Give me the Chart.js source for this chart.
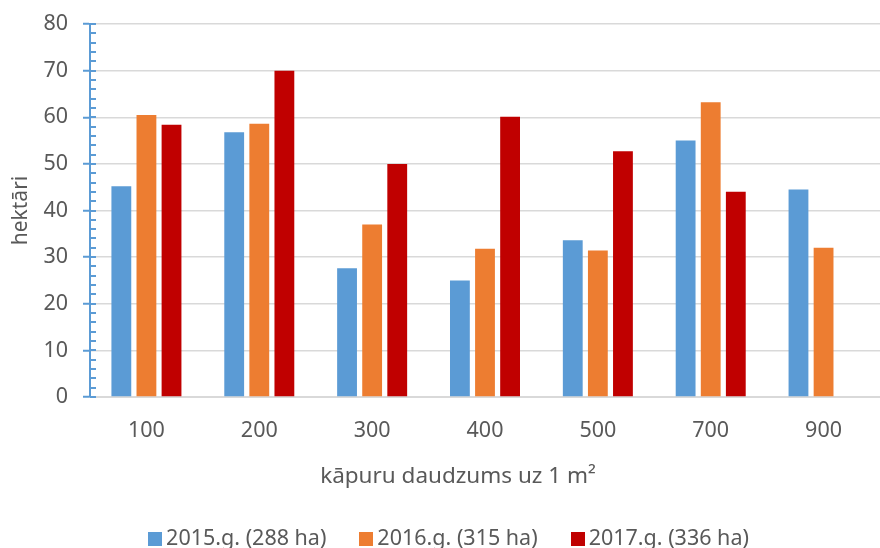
<!DOCTYPE html>
<html>
<head>
<meta charset="utf-8">
<script src="https://cdn.jsdelivr.net/npm/chart.js@4/dist/chart.umd.min.js"></script>
<style>
  html, body { margin: 0; padding: 0; background: #ffffff; }
  #wrap { width: 880px; height: 548px; position: relative; }
</style>
</head>
<body>
<div id="wrap"><canvas id="c"></canvas></div>
<script>
const categories = ['100', '200', '300', '400', '500', '700', '900'];
const seriesLabels = ['2015.g. (288 ha)', '2016.g. (315 ha)', '2017.g. (336 ha)'];
const values2015 = [45.2, 56.8, 27.6, 25.0, 33.6, 55.0, 44.5];
const values2016 = [60.5, 58.6, 37.0, 31.8, 31.4, 63.2, 32.0];
const values2017 = [58.4, 70.0, 50.0, 60.1, 52.7, 44.0, null];
const seriesColors = ['#5B9BD5', '#ED7D31', '#C00000'];
const yTicks = [0, 10, 20, 30, 40, 50, 60, 70, 80];
const yTitle = 'hektāri';
const xTitle = 'kāpuru daudzums uz 1 m²';

const FONT = '"Noto Sans", "Open Sans", sans-serif';
const TEXT = '#595959';

const extras = {
  id: 'extras',
  afterDraw(chart) {
    const ctx = chart.ctx;
    const y = chart.scales.y;
    const area = chart.chartArea;
    ctx.save();
    // inner major/minor tick marks on the y axis
    ctx.strokeStyle = '#5B9BD5';
    ctx.lineWidth = 2;
    for (let v = yTicks[0]; v <= yTicks[yTicks.length - 1]; v += 2) {
      const py = Math.round(y.getPixelForValue(v));
      ctx.beginPath();
      ctx.moveTo(area.left, py);
      ctx.lineTo(area.left + 6, py);
      ctx.stroke();
    }
    // x axis title
    ctx.fillStyle = TEXT;
    ctx.font = '22.5px ' + FONT;
    ctx.textAlign = 'center';
    ctx.textBaseline = 'middle';
    ctx.fillText(xTitle, 458, 477);
    // legend
    ctx.font = '21.5px ' + FONT;
    const items = chart.data.datasets.map(d => ({
      label: d.label, color: d.backgroundColor, w: ctx.measureText(d.label).width
    }));
    const box = 14, gapBox = 4, gapItem = 33;
    let total = 0;
    items.forEach((b, i) => { total += box + gapBox + b.w + (i < items.length - 1 ? gapItem : 0); });
    let x = 448.5 - total / 2;
    const ly = 539;
    ctx.textAlign = 'left';
    items.forEach(b => {
      ctx.fillStyle = b.color;
      ctx.fillRect(Math.round(x), ly - 7, box, box);
      x += box + gapBox;
      ctx.fillStyle = TEXT;
      ctx.fillText(b.label, x, ly);
      x += b.w + gapItem;
    });
    ctx.restore();
  }
};

new Chart(document.getElementById('c'), {
  type: 'bar',
  data: {
    labels: categories,
    datasets: [
      { label: seriesLabels[0], data: values2015, backgroundColor: seriesColors[0] },
      { label: seriesLabels[1], data: values2016, backgroundColor: seriesColors[1] },
      { label: seriesLabels[2], data: values2017, backgroundColor: seriesColors[2] }
    ]
  },
  options: {
    responsive: true,
    maintainAspectRatio: false,
    animation: false,
    devicePixelRatio: 1,
    layout: { padding: { top: 24, right: -11, bottom: 0, left: 0 } },
    datasets: { bar: { categoryPercentage: 0.667, barPercentage: 0.79 } },
    plugins: {
      legend: { display: false },
      tooltip: { enabled: false }
    },
    scales: {
      x: {
        grid: { display: false, drawTicks: false },
        border: { display: true, color: '#D9D9D9', width: 2 },
        ticks: { color: TEXT, font: { family: FONT, size: 21.5 }, padding: 21 },
        afterFit(scale) { scale.height = 151; scale.paddingLeft = 0; scale.paddingRight = 0; }
      },
      y: {
        min: 0, max: 80,
        afterBuildTicks(scale) { scale.ticks = yTicks.map(v => ({ value: v })); },
        grid: { color: '#D9D9D9', lineWidth: 1.5, tickLength: 7, tickColor: '#5B9BD5', tickWidth: 2 },
        border: { display: true, color: '#5B9BD5', width: 2 },
        ticks: { color: TEXT, font: { family: FONT, size: 21.5 }, padding: 15 },
        title: { display: true, text: yTitle, color: TEXT, font: { family: FONT, size: 21 }, padding: { top: 8, bottom: 0 } },
        afterFit(scale) { scale.width = 90; scale.paddingTop = 0; scale.paddingBottom = 0; }
      }
    }
  },
  plugins: [extras]
});
</script>
</body>
</html>
